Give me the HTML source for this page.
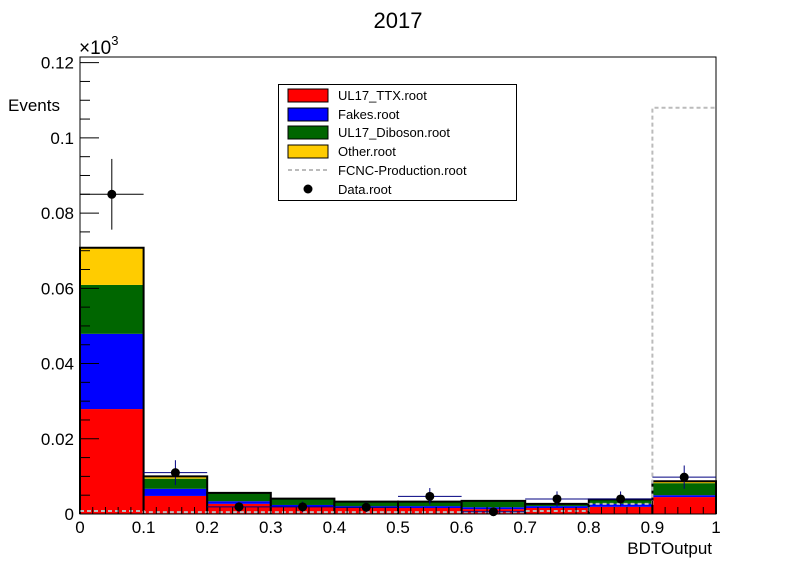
<!DOCTYPE html>
<html><head><meta charset="utf-8"><style>
body{margin:0;background:#fff;}
svg text{font-family:"Liberation Sans",sans-serif;}
</style></head><body>
<svg id="chart" width="796" height="572" xmlns="http://www.w3.org/2000/svg">
<rect width="796" height="572" fill="#fff"/>
<text x="398" y="28" font-size="22" text-anchor="middle">2017</text>
<g id="plot"></g>
</svg>
<script>
const binEdges=[0,0.1,0.2,0.3,0.4,0.5,0.6,0.7,0.8,0.9,1.0];
const ttx=[0.0279,0.0048,0.0027,0.0019,0.0016,0.0016,0.0013,0.0016,0.0019,0.0045];
const fakes=[0.0200,0.0019,0.0007,0.0005,0.0005,0.0005,0.0005,0.0005,0.0008,0.0005];
const diboson=[0.0130,0.0027,0.0021,0.0016,0.0011,0.0011,0.0016,0.0005,0.0011,0.0032];
const other=[0.0099,0.0006,0.0001,0.0001,0.0001,0.0001,0.0001,0.0001,0.0001,0.0005];
const fcnc=[0.0008,0.0005,0.0005,0.0005,0.0005,0.0005,0.0005,0.0008,0.0027,0.108];
const dataVals=[0.085,0.011,0.0019,0.0019,0.0018,0.0047,0.0006,0.004,0.004,0.0098];
const dataErr=[0.0094,0.0033,0.0014,0.0014,0.0013,0.0022,0.0008,0.002,0.002,0.0031];
const yTicks=[0,0.02,0.04,0.06,0.08,0.1,0.12];
const yTickLabels=["0","0.02","0.04","0.06","0.08","0.1","0.12"];
const xTicks=[0,0.1,0.2,0.3,0.4,0.5,0.6,0.7,0.8,0.9,1];
const xTickLabels=["0","0.1","0.2","0.3","0.4","0.5","0.6","0.7","0.8","0.9","1"];

const L=80,R=716,T=57,B=514,yMax=0.1215;
const X=v=>L+(v-binEdges[0])/(binEdges[binEdges.length-1]-binEdges[0])*(R-L);
const Y=v=>B-v/yMax*(B-T);
const NS="http://www.w3.org/2000/svg";
const g=document.getElementById('plot');
function mk(tag,attrs,parent){const e=document.createElementNS(NS,tag);for(const k in attrs)e.setAttribute(k,attrs[k]);(parent||g).appendChild(e);return e;}

const series=[[ttx,'#ff0000','ttx'],[fakes,'#0000ff','fakes'],[diboson,'#006600','diboson'],[other,'#ffcc00','other']];
for(let i=0;i<ttx.length;i++){
  let base=0;
  for(const [arr,col,nm] of series){
    const r=mk('rect',{x:X(binEdges[i]),y:Y(base+arr[i]),width:X(binEdges[i+1])-X(binEdges[i]),height:Y(base)-Y(base+arr[i]),fill:col});
    
    
    base+=arr[i];
  }
  const o=mk('path',{d:`M${X(binEdges[i])},${B}V${Y(base)}H${X(binEdges[i+1])}V${B}`,fill:'none',stroke:'#000','stroke-width':2});
  
  
}
let d='';
for(let i=0;i<fcnc.length;i++){d+=(i===0?`M${X(binEdges[i])},${Y(fcnc[i])}`:`V${Y(fcnc[i])}`)+`H${X(binEdges[i+1])}`;}
const fl=mk('path',{d:d,fill:'none',stroke:'#bbbbbb','stroke-width':2,'stroke-dasharray':'4,3'});


const fr=mk('rect',{x:L,y:T,width:R-L,height:B-T,fill:'none',stroke:'#000','stroke-width':1});


for(let v=0;v<=0.1201;v+=0.005){const major=Math.abs(v/0.02-Math.round(v/0.02))<1e-6;
  mk('line',{x1:L,x2:L+(major?19:10),y1:Y(v),y2:Y(v),stroke:'#000'});}
yTicks.forEach((v,i)=>{const t=mk('text',{x:L-6,y:Y(v)+6,'font-size':17,'text-anchor':'end'});t.textContent=yTickLabels[i];
  
  });
for(let k=0;k<=50;k++){const v=k*0.02;const major=k%5===0;
  mk('line',{x1:X(v),x2:X(v),y1:B,y2:B-(major?13:7),stroke:'#000'});}
xTicks.forEach((v,i)=>{const t=mk('text',{x:X(v),y:B+19,'font-size':17,'text-anchor':'middle'});t.textContent=xTickLabels[i];
  
  });
for(let i=0;i<dataVals.length;i++){
  const cx=(X(binEdges[i])+X(binEdges[i+1]))/2,cy=Y(dataVals[i]);
  const col=i===0?'#000':'#000080';
  mk('line',{x1:X(binEdges[i]),x2:X(binEdges[i+1]),y1:cy,y2:cy,stroke:col});
  mk('line',{x1:cx,x2:cx,y1:Y(dataVals[i]+dataErr[i]),y2:Y(Math.max(0,dataVals[i]-dataErr[i])),stroke:col});
  const c=mk('circle',{cx:cx,cy:cy,r:4.5,fill:'#000'});
  
  
}
</script>
<svg style="position:absolute;left:0;top:0" width="796" height="572" xmlns="http://www.w3.org/2000/svg">
<text x="79" y="54" font-size="19" font-family="Liberation Sans">×10<tspan dy="-9" font-size="13">3</tspan></text>
<text x="8" y="111" font-size="17" font-family="Liberation Sans">Events</text>
<text x="712" y="554" font-size="17" font-family="Liberation Sans" text-anchor="end">BDTOutput</text>
<g font-family="Liberation Sans" font-size="13">
<rect x="278.5" y="84.5" width="238" height="116" fill="#fff" stroke="#000"/>
<rect x="288" y="89" width="40" height="13" fill="#ff0000" stroke="#000"/>
<text x="338" y="100">UL17_TTX.root</text>
<rect x="288" y="108" width="40" height="13" fill="#0000ff" stroke="#000"/>
<text x="338" y="119">Fakes.root</text>
<rect x="288" y="126" width="40" height="13" fill="#006600" stroke="#000"/>
<text x="338" y="137">UL17_Diboson.root</text>
<rect x="288" y="145" width="40" height="13" fill="#ffcc00" stroke="#000"/>
<text x="338" y="156">Other.root</text>
<line x1="288" x2="328" y1="170" y2="170" stroke="#bbb" stroke-width="2" stroke-dasharray="4,3"/>
<text x="338" y="175">FCNC-Production.root</text>
<circle cx="308" cy="189" r="4.5" fill="#000"/>
<text x="338" y="194">Data.root</text>
</g>
</svg>
</body></html>
